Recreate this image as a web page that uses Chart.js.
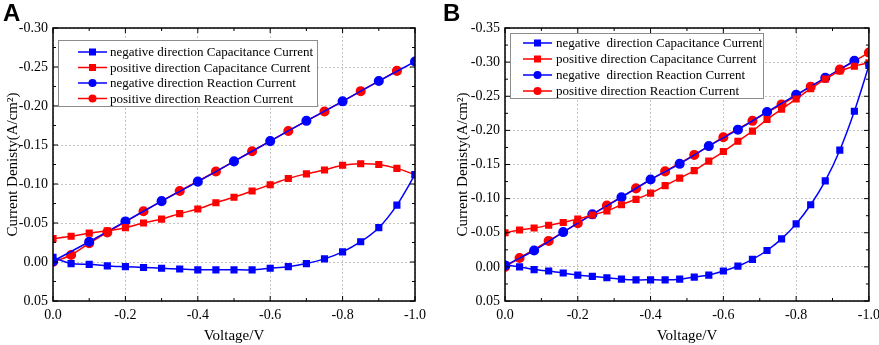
<!DOCTYPE html>
<html>
<head>
    <title>Current Density vs Voltage</title>
    <script src="https://cdn.jsdelivr.net/npm/chart.js"></script>
    <style>
        body { margin: 0; background: #fff; overflow: hidden; }
        canvas { position: absolute; top: 0; }
        #chartA { left: 0; }
        #chartB { left: 440px; }
    </style>
</head>
<body>
    <canvas id="chartA" width="440" height="345"></canvas>
    <canvas id="chartB" width="446" height="345"></canvas>

    <script>
        // Panel A data (step 0.05 V)
        const voltsA = [0, -0.05, -0.10, -0.15, -0.20, -0.25, -0.30, -0.35, -0.40, -0.45, -0.50,
                        -0.55, -0.60, -0.65, -0.70, -0.75, -0.80, -0.85, -0.90, -0.95, -1.00];
        const aNegCap = [-0.006, 0.002, 0.003, 0.005, 0.006, 0.007, 0.008, 0.009, 0.010, 0.010, 0.010,
                         0.010, 0.008, 0.006, 0.002, -0.004, -0.013, -0.026, -0.044, -0.073, -0.112];
        const aPosCap = [-0.030, -0.033, -0.037, -0.040, -0.044, -0.050, -0.055, -0.062, -0.068, -0.076, -0.083,
                         -0.091, -0.099, -0.107, -0.113, -0.118, -0.124, -0.126, -0.125, -0.120, -0.112];
        const aNegReactV = [0, -0.10, -0.20, -0.30, -0.40, -0.50, -0.60, -0.70, -0.80, -0.90, -1.00];
        const aNegReact = [-0.001, -0.026, -0.052, -0.078, -0.103, -0.129, -0.155, -0.181, -0.206, -0.232, -0.257];
        const aPosReactV = [0, -0.05, -0.10, -0.15, -0.25, -0.35, -0.45, -0.55, -0.65, -0.75, -0.85, -0.95];
        const aPosReact = [0.000, -0.009, -0.024, -0.038, -0.065, -0.091, -0.116, -0.142, -0.168, -0.193, -0.219, -0.245];

        // Panel B data (step 0.04 V)
        const voltsB = [0, -0.04, -0.08, -0.12, -0.16, -0.20, -0.24, -0.28, -0.32, -0.36, -0.40, -0.44, -0.48,
                        -0.52, -0.56, -0.60, -0.64, -0.68, -0.72, -0.76, -0.80, -0.84, -0.88, -0.92, -0.96, -1.00];
        const bNegCap = [-0.003, 0.000, 0.004, 0.006, 0.009, 0.012, 0.014, 0.016, 0.018, 0.019, 0.019, 0.019, 0.018,
                         0.015, 0.012, 0.006, -0.001, -0.011, -0.024, -0.041, -0.063, -0.091, -0.126, -0.171, -0.228, -0.295];
        const bPosCap = [-0.050, -0.054, -0.057, -0.061, -0.065, -0.070, -0.076, -0.082, -0.091, -0.099, -0.108, -0.119, -0.130,
                         -0.141, -0.155, -0.169, -0.184, -0.199, -0.216, -0.231, -0.246, -0.261, -0.275, -0.287, -0.294, -0.299];
        const bNegReactV = [0, -0.08, -0.16, -0.24, -0.32, -0.40, -0.48, -0.56, -0.64, -0.72, -0.80, -0.88, -0.96];
        const bNegReact = [-0.002, -0.024, -0.051, -0.077, -0.102, -0.128, -0.151, -0.177, -0.201, -0.227, -0.252, -0.277, -0.302];
        const bPosReactV = [0, -0.04, -0.12, -0.20, -0.28, -0.36, -0.44, -0.52, -0.60, -0.68, -0.76, -0.84, -0.92, -1.00];
        const bPosReact = [0.000, -0.013, -0.038, -0.064, -0.090, -0.115, -0.140, -0.164, -0.190, -0.214, -0.238, -0.264, -0.289, -0.314];

        const labelsA = ['negative direction Capacitance Current', 'positive direction Capacitance Current',
                         'negative direction Reaction Current', 'positive direction Reaction Current'];
        const labelsB = ['negative  direction Capacitance Current', 'positive direction Capacitance Current',
                         'negative  direction Reaction Current', 'positive direction Reaction Current'];

        const BLUE = '#0000ff';
        const RED = '#ff0000';
        const SERIF = '"Liberation Serif", "Times New Roman", serif';

        const pts = (xs, ys) => xs.map((x, i) => ({ x: x, y: ys[i] }));

        function series(label, xs, ys, color, shape) {
            return {
                label: label,
                data: pts(xs, ys),
                borderColor: color,
                backgroundColor: color,
                borderWidth: 1.5,
                pointStyle: shape,
                pointRadius: shape === 'rect' ? 4 : 4.3,
                tension: 0.3,
                showLine: true
            };
        }

        // box, inward ticks and minor ticks on all four sides
        const framePlugin = {
            id: 'frame',
            afterDraw(chart) {
                const { ctx, chartArea: a, scales: { x, y } } = chart;
                ctx.save();
                ctx.strokeStyle = '#000';
                ctx.lineWidth = 1;
                const line = (x1, y1, x2, y2) => {
                    ctx.beginPath(); ctx.moveTo(x1, y1); ctx.lineTo(x2, y2); ctx.stroke();
                };
                x.ticks.forEach((t, i) => {
                    const px = x.getPixelForValue(t.value);
                    line(px, a.bottom, px, a.bottom - 5);
                    line(px, a.top, px, a.top + 5);
                    if (i < x.ticks.length - 1) {
                        const mx = x.getPixelForValue((t.value + x.ticks[i + 1].value) / 2);
                        line(mx, a.bottom, mx, a.bottom - 3);
                        line(mx, a.top, mx, a.top + 3);
                    }
                });
                y.ticks.forEach((t, i) => {
                    const py = y.getPixelForValue(t.value);
                    line(a.left, py, a.left + 5, py);
                    line(a.right, py, a.right - 5, py);
                    if (i < y.ticks.length - 1) {
                        const my = y.getPixelForValue((t.value + y.ticks[i + 1].value) / 2);
                        line(a.left, my, a.left + 3, my);
                        line(a.right, my, a.right - 3, my);
                    }
                });
                ctx.lineWidth = 1.5;
                ctx.strokeRect(a.left, a.top, a.right - a.left, a.bottom - a.top);
                ctx.restore();
            }
        };

        // legend box inside the plot + panel letter
        const boxLegendPlugin = {
            id: 'boxLegend',
            afterDraw(chart, args, opts) {
                const ctx = chart.ctx;
                const b = opts.box;
                ctx.save();
                ctx.fillStyle = '#fff';
                ctx.fillRect(b.x, b.y, b.w, b.h);
                ctx.strokeStyle = '#8c8c8c';
                ctx.lineWidth = 1;
                ctx.strokeRect(b.x + 0.5, b.y + 0.5, b.w, b.h);
                ctx.font = '13px ' + SERIF;
                ctx.textBaseline = 'middle';
                chart.data.datasets.forEach((ds, i) => {
                    const ry = opts.rowY + i * opts.rowGap;
                    ctx.strokeStyle = ds.borderColor;
                    ctx.fillStyle = ds.borderColor;
                    ctx.lineWidth = 1.5;
                    ctx.beginPath();
                    ctx.moveTo(opts.lineX, ry);
                    ctx.lineTo(opts.lineX + 29, ry);
                    ctx.stroke();
                    const mx = opts.lineX + 14.5;
                    if (ds.pointStyle === 'rect') {
                        ctx.fillRect(mx - 3.5, ry - 3.5, 7, 7);
                    } else {
                        ctx.beginPath();
                        ctx.arc(mx, ry, 4, 0, Math.PI * 2);
                        ctx.fill();
                    }
                    ctx.fillStyle = '#000';
                    ctx.fillText(ds.label, opts.textX, ry + 1);
                });
                ctx.font = 'bold 24px "Liberation Sans", Arial, sans-serif';
                ctx.textBaseline = 'alphabetic';
                ctx.fillText(opts.letter, opts.letterX, 21);
                ctx.restore();
            }
        };

        function makeChart(id, datasets, yMin, yWidth, titlePad, rightPad, legendOpts) {
            const ctx = document.getElementById(id).getContext('2d');
            return new Chart(ctx, {
                type: 'scatter',
                data: { datasets: datasets },
                plugins: [framePlugin, boxLegendPlugin],
                options: {
                    responsive: false,
                    animation: false,
                    layout: { padding: { top: 28, right: rightPad, left: 0, bottom: 0 } },
                    plugins: {
                        legend: { display: false },
                        tooltip: { enabled: false },
                        boxLegend: legendOpts
                    },
                    scales: {
                        x: {
                            type: 'linear',
                            reverse: true,
                            min: -1, max: 0,
                            ticks: {
                                stepSize: 0.2,
                                color: '#000',
                                padding: 6,
                                font: { family: SERIF, size: 14 },
                                maxRotation: 0,
                                callback: v => v.toFixed(1)
                            },
                            grid: { color: '#c4c4c4', lineWidth: 1, drawTicks: false },
                            border: { display: false, dash: [2, 2] },
                            title: {
                                display: true,
                                text: 'Voltage/V',
                                color: '#000',
                                font: { family: SERIF, size: 15 },
                                padding: { top: 4, bottom: 0 }
                            },
                            afterFit: s => { s.height = 44; }
                        },
                        y: {
                            type: 'linear',
                            reverse: true,
                            min: yMin, max: 0.05,
                            ticks: {
                                stepSize: 0.05,
                                color: '#000',
                                padding: 5,
                                font: { family: SERIF, size: 14 },
                                callback: v => v.toFixed(2)
                            },
                            grid: { color: '#c4c4c4', lineWidth: 1, drawTicks: false },
                            border: { display: false, dash: [2, 2] },
                            title: {
                                display: true,
                                text: 'Current Denisty(A/cm²)',
                                color: '#000',
                                font: { family: SERIF, size: 15 },
                                padding: { top: titlePad, bottom: 0 }
                            },
                            afterFit: s => { s.width = yWidth; }
                        }
                    }
                }
            });
        }

        makeChart('chartA', [
            series(labelsA[0], voltsA, aNegCap, BLUE, 'rect'),
            series(labelsA[1], voltsA, aPosCap, RED, 'rect'),
            series(labelsA[2], aNegReactV, aNegReact, BLUE, 'circle'),
            series(labelsA[3], aPosReactV, aPosReact, RED, 'circle')
        ], -0.30, 53, 4, 25, {
            letter: 'A', letterX: 3,
            box: { x: 58, y: 40, w: 259, h: 66 },
            lineX: 78, textX: 110, rowY: 52, rowGap: 15.5
        });

        makeChart('chartB', [
            series(labelsB[0], voltsB, bNegCap, BLUE, 'rect'),
            series(labelsB[1], voltsB, bPosCap, RED, 'rect'),
            series(labelsB[2], bNegReactV, bNegReact, BLUE, 'circle'),
            series(labelsB[3], bPosReactV, bPosReact, RED, 'circle')
        ], -0.35, 65, 14, 11, {
            letter: 'B', letterX: 3,
            box: { x: 70, y: 33, w: 253, h: 65 },
            lineX: 83, textX: 116, rowY: 43, rowGap: 16
        });
    </script>
</body>
</html>
